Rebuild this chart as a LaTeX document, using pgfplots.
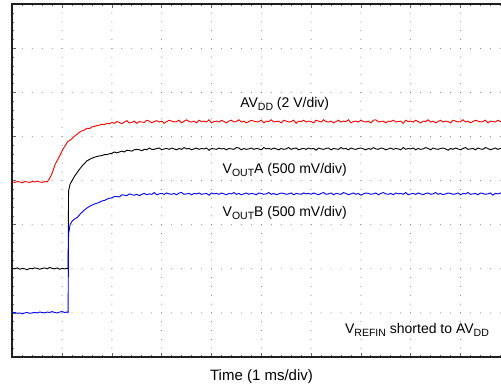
\documentclass[border=0pt]{standalone}
\usepackage{pgfplots}
\pgfplotsset{compat=1.18}
\usepackage{fontspec}
\setmainfont{Liberation Sans}
\newcommand{\sub}[1]{\raisebox{-3pt}{\fontsize{10.5pt}{10.5pt}\selectfont #1}}
\definecolor{tred}{RGB}{250,0,0}
\definecolor{tblue}{RGB}{0,0,250}
\begin{document}
\begin{tikzpicture}
\begin{axis}[
 scale only axis, width=498pt, height=352.7pt,
 xmin=0, xmax=10, ymin=0, ymax=8,
 axis line style={line width=2pt, black!88},
 xtick={0,...,10}, ytick={0,...,8}, minor x tick num=4, minor y tick num=4,
 xticklabels={}, yticklabels={},
 tick align=inside, major tick length=4pt, minor tick length=2pt,
 tick style={black!60, line width=0.8pt},
 grid=major,
 major x grid style={black!55, line width=1pt, line cap=round, dash pattern=on 0pt off 8.818pt},
 major y grid style={black!55, line width=1pt, line cap=round, dash pattern=on 0pt off 9.96pt},
]
% AVDD (red)
\addplot[tred, line width=0.9pt] coordinates {
(0.00,3.97)(0.05,3.96)(0.10,3.98)(0.15,3.97)(0.20,3.95)(0.25,3.98)(0.30,3.97)(0.35,3.96)(0.40,3.98)(0.45,3.97)
(0.50,3.99)(0.55,3.97)(0.60,3.96)(0.65,3.98)(0.70,3.97)
(0.75,4.05)(0.80,4.17)(0.86,4.37)(0.91,4.47)(0.96,4.58)(1.01,4.70)(1.06,4.79)(1.11,4.88)(1.16,4.92)(1.21,4.96)
(1.26,5.02)(1.30,5.05)(1.35,5.10)(1.40,5.13)(1.45,5.15)(1.50,5.19)(1.55,5.18)(1.60,5.22)(1.65,5.23)(1.70,5.25)
(1.75,5.26)(1.80,5.28)(1.85,5.27)(1.90,5.30)(1.95,5.29)
(2.00,5.32)(2.05,5.30)(2.10,5.34)(2.15,5.32)(2.20,5.29)(2.25,5.33)(2.30,5.36)(2.35,5.31)(2.40,5.32)(2.45,5.35)
(2.50,5.30)(2.55,5.34)(2.60,5.33)(2.65,5.32)(2.70,5.37)(2.75,5.35)(2.80,5.31)(2.85,5.34)(2.90,5.36)(2.95,5.33)
(3.00,5.35)(3.05,5.30)(3.10,5.34)(3.15,5.37)(3.20,5.35)(3.25,5.33)(3.30,5.34)(3.35,5.37)(3.40,5.31)(3.45,5.35)
(3.50,5.38)(3.55,5.34)(3.60,5.33)(3.65,5.35)(3.70,5.31)(3.75,5.37)(3.80,5.34)(3.85,5.35)(3.90,5.33)(3.95,5.38)
(4.00,5.31)(4.05,5.34)(4.10,5.35)(4.15,5.33)(4.20,5.37)(4.25,5.34)(4.30,5.31)(4.35,5.35)(4.40,5.37)(4.45,5.33)
(4.50,5.34)(4.55,5.38)(4.60,5.33)(4.65,5.35)(4.70,5.31)(4.75,5.34)(4.80,5.37)(4.85,5.35)(4.90,5.33)(4.95,5.34)
(5.00,5.37)(5.05,5.31)(5.10,5.35)(5.15,5.34)(5.20,5.38)(5.25,5.33)(5.30,5.34)(5.35,5.35)(5.40,5.31)(5.45,5.37)
(5.50,5.35)(5.55,5.33)(5.60,5.34)(5.65,5.37)(5.70,5.30)(5.75,5.35)(5.80,5.34)(5.85,5.37)(5.90,5.33)(5.95,5.35)
(6.00,5.34)(6.05,5.31)(6.10,5.37)(6.15,5.35)(6.20,5.33)(6.25,5.38)(6.30,5.34)(6.35,5.33)(6.40,5.35)(6.45,5.31)
(6.50,5.34)(6.55,5.37)(6.60,5.33)(6.65,5.35)(6.70,5.34)(6.75,5.38)(6.80,5.31)(6.85,5.34)(6.90,5.35)(6.95,5.33)
(7.00,5.37)(7.05,5.34)(7.10,5.33)(7.15,5.35)(7.20,5.31)(7.25,5.37)(7.30,5.38)(7.35,5.33)(7.40,5.34)(7.45,5.35)
(7.50,5.31)(7.55,5.35)(7.60,5.34)(7.65,5.37)(7.70,5.33)(7.75,5.34)(7.80,5.35)(7.85,5.30)(7.90,5.37)(7.95,5.34)
(8.00,5.35)(8.05,5.33)(8.10,5.37)(8.15,5.34)(8.20,5.31)(8.25,5.35)(8.30,5.34)(8.35,5.38)(8.40,5.33)(8.45,5.35)
(8.50,5.31)(8.55,5.34)(8.60,5.37)(8.65,5.33)(8.70,5.35)(8.75,5.34)(8.80,5.31)(8.85,5.37)(8.90,5.35)(8.95,5.33)
(9.00,5.34)(9.05,5.38)(9.10,5.33)(9.15,5.35)(9.20,5.31)(9.25,5.34)(9.30,5.37)(9.35,5.35)(9.40,5.33)(9.45,5.34)
(9.50,5.37)(9.55,5.31)(9.60,5.35)(9.65,5.34)(9.70,5.33)(9.75,5.37)(9.80,5.34)(9.85,5.35)
};
% VOUTA (black)
\addplot[black, line width=0.9pt] coordinates {
(0.00,2.01)(0.05,2.00)(0.10,2.02)(0.15,1.99)(0.20,2.01)(0.25,2.00)(0.30,1.98)(0.35,2.01)(0.40,2.00)(0.45,2.02)
(0.50,2.01)(0.55,1.99)(0.60,2.01)(0.65,2.02)(0.70,2.00)(0.75,2.03)(0.80,2.01)(0.85,2.00)(0.90,2.02)(0.95,1.99)
(1.00,2.01)(1.05,2.00)(1.10,2.01)(1.12,2.00)
(1.13,3.77)(1.16,3.92)(1.20,4.00)(1.25,4.10)(1.30,4.18)(1.35,4.26)(1.40,4.33)(1.45,4.39)(1.50,4.45)(1.55,4.48)
(1.60,4.51)(1.65,4.53)(1.70,4.55)(1.75,4.56)(1.80,4.57)(1.85,4.59)(1.90,4.59)(1.95,4.61)
(2.00,4.62)(2.05,4.65)(2.10,4.63)(2.15,4.65)(2.20,4.67)(2.25,4.65)(2.30,4.69)(2.35,4.68)(2.40,4.67)(2.45,4.70)
(2.50,4.71)(2.55,4.70)(2.60,4.68)(2.65,4.71)(2.70,4.70)(2.75,4.74)(2.80,4.71)(2.85,4.71)(2.90,4.73)(2.95,4.74)
(3.00,4.70)(3.05,4.72)(3.10,4.73)(3.15,4.71)(3.20,4.74)(3.25,4.72)(3.30,4.70)(3.35,4.73)(3.40,4.71)(3.45,4.75)
(3.50,4.72)(3.55,4.73)(3.60,4.70)(3.65,4.72)(3.70,4.74)(3.75,4.71)(3.80,4.73)(3.85,4.72)(3.90,4.74)(3.95,4.69)
(4.00,4.73)(4.05,4.72)(4.10,4.71)(4.15,4.74)(4.20,4.72)(4.25,4.73)(4.30,4.70)(4.35,4.73)(4.40,4.72)(4.45,4.71)
(4.50,4.75)(4.55,4.74)(4.60,4.70)(4.65,4.73)(4.70,4.71)(4.75,4.72)(4.80,4.74)(4.85,4.71)(4.90,4.73)(4.95,4.72)
(5.00,4.70)(5.05,4.75)(5.10,4.72)(5.15,4.73)(5.20,4.71)(5.25,4.74)(5.30,4.72)(5.35,4.70)(5.40,4.73)(5.45,4.71)
(5.50,4.72)(5.55,4.75)(5.60,4.71)(5.65,4.73)(5.70,4.74)(5.75,4.70)(5.80,4.72)(5.85,4.73)(5.90,4.71)(5.95,4.74)
(6.00,4.72)(6.05,4.73)(6.10,4.69)(6.15,4.74)(6.20,4.72)(6.25,4.71)(6.30,4.73)(6.35,4.74)(6.40,4.70)(6.45,4.73)
(6.50,4.72)(6.55,4.71)(6.60,4.75)(6.65,4.72)(6.70,4.73)(6.75,4.70)(6.80,4.74)(6.85,4.72)(6.90,4.71)(6.95,4.73)
(7.00,4.74)(7.05,4.72)(7.10,4.70)(7.15,4.73)(7.20,4.71)(7.25,4.75)(7.30,4.72)(7.35,4.71)(7.40,4.74)(7.45,4.73)
(7.50,4.70)(7.55,4.72)(7.60,4.74)(7.65,4.71)(7.70,4.73)(7.75,4.72)(7.80,4.70)(7.85,4.75)(7.90,4.71)(7.95,4.73)
(8.00,4.72)(8.05,4.74)(8.10,4.70)(8.15,4.73)(8.20,4.71)(8.25,4.72)(8.30,4.75)(8.35,4.73)(8.40,4.70)(8.45,4.74)
(8.50,4.72)(8.55,4.71)(8.60,4.73)(8.65,4.74)(8.70,4.72)(8.75,4.69)(8.80,4.73)(8.85,4.71)(8.90,4.74)(8.95,4.72)
(9.00,4.70)(9.05,4.73)(9.10,4.75)(9.15,4.71)(9.20,4.72)(9.25,4.73)(9.30,4.70)(9.35,4.74)(9.40,4.72)(9.45,4.71)
(9.50,4.75)(9.55,4.73)(9.60,4.70)(9.65,4.72)(9.70,4.74)(9.75,4.71)(9.80,4.73)(9.85,4.72)
};
% VOUTB (blue)
\addplot[tblue, line width=0.9pt] coordinates {
(0.00,1.00)(0.05,1.01)(0.10,0.99)(0.15,1.00)(0.20,0.98)(0.25,1.00)(0.30,1.01)(0.35,0.99)(0.40,1.00)(0.45,1.01)
(0.50,1.00)(0.55,1.02)(0.60,1.01)(0.65,1.00)(0.70,1.02)(0.75,1.01)(0.80,1.03)(0.85,1.01)(0.90,1.00)(0.95,1.02)
(1.00,1.03)(1.05,1.01)(1.10,1.02)(1.12,1.01)
(1.13,2.80)(1.14,2.86)(1.16,3.00)(1.20,3.08)(1.25,3.13)(1.31,3.17)(1.37,3.25)(1.43,3.32)(1.50,3.38)(1.57,3.43)
(1.65,3.47)(1.73,3.50)(1.80,3.54)(1.85,3.55)(1.90,3.58)(1.95,3.60)
(2.00,3.61)(2.05,3.64)(2.10,3.64)(2.15,3.63)(2.20,3.68)(2.25,3.67)(2.30,3.66)(2.35,3.70)(2.40,3.68)(2.45,3.67)
(2.50,3.69)(2.55,3.66)(2.60,3.69)(2.65,3.71)(2.70,3.68)(2.75,3.70)(2.80,3.69)(2.85,3.73)(2.90,3.68)(2.95,3.70)
(3.00,3.71)(3.05,3.69)(3.10,3.72)(3.15,3.70)(3.20,3.69)(3.25,3.71)(3.30,3.68)(3.35,3.72)(3.40,3.73)(3.45,3.69)
(3.50,3.70)(3.55,3.71)(3.60,3.68)(3.65,3.71)(3.70,3.70)(3.75,3.72)(3.80,3.69)(3.85,3.70)(3.90,3.71)(3.95,3.67)
(4.00,3.72)(4.05,3.70)(4.10,3.71)(4.15,3.69)(4.20,3.72)(4.25,3.70)(4.30,3.68)(4.35,3.71)(4.40,3.70)(4.45,3.73)
(4.50,3.69)(4.55,3.71)(4.60,3.68)(4.65,3.70)(4.70,3.72)(4.75,3.69)(4.80,3.71)(4.85,3.70)(4.90,3.68)(4.95,3.72)
(5.00,3.71)(5.05,3.69)(5.10,3.70)(5.15,3.73)(5.20,3.69)(5.25,3.71)(5.30,3.68)(5.35,3.70)(5.40,3.72)(5.45,3.71)
(5.50,3.69)(5.55,3.70)(5.60,3.72)(5.65,3.68)(5.70,3.71)(5.75,3.70)(5.80,3.69)(5.85,3.72)(5.90,3.70)(5.95,3.71)
(6.00,3.69)(6.05,3.72)(6.10,3.70)(6.15,3.68)(6.20,3.71)(6.25,3.73)(6.30,3.69)(6.35,3.70)(6.40,3.72)(6.45,3.68)
(6.50,3.71)(6.55,3.70)(6.60,3.69)(6.65,3.73)(6.70,3.71)(6.75,3.68)(6.80,3.70)(6.85,3.72)(6.90,3.69)(6.95,3.71)
(7.00,3.67)(7.05,3.70)(7.10,3.72)(7.15,3.71)(7.20,3.69)(7.25,3.70)(7.30,3.72)(7.35,3.68)(7.40,3.71)(7.45,3.73)
(7.50,3.70)(7.55,3.69)(7.60,3.71)(7.65,3.68)(7.70,3.72)(7.75,3.70)(7.80,3.71)(7.85,3.69)(7.90,3.73)(7.95,3.68)
(8.00,3.70)(8.05,3.71)(8.10,3.69)(8.15,3.72)(8.20,3.70)(8.25,3.68)(8.30,3.71)(8.35,3.72)(8.40,3.69)(8.45,3.70)
(8.50,3.73)(8.55,3.69)(8.60,3.71)(8.65,3.68)(8.70,3.70)(8.75,3.72)(8.80,3.71)(8.85,3.69)(8.90,3.70)(8.95,3.72)
(9.00,3.68)(9.05,3.71)(9.10,3.70)(9.15,3.73)(9.20,3.69)(9.25,3.70)(9.30,3.71)(9.35,3.68)(9.40,3.72)(9.45,3.71)
(9.50,3.69)(9.55,3.70)(9.60,3.72)(9.65,3.67)(9.70,3.71)(9.75,3.70)(9.80,3.72)(9.85,3.70)
};
\node[font=\fontsize{14pt}{16pt}\selectfont] at (axis cs:5.47,5.74) {AV\sub{DD} (2 V/div)};
\node[font=\fontsize{14pt}{16pt}\selectfont] at (axis cs:5.47,4.25) {V\sub{OUT}A (500 mV/div)};
\node[font=\fontsize{14pt}{16pt}\selectfont] at (axis cs:5.47,3.26) {V\sub{OUT}B (500 mV/div)};
\node[font=\fontsize{14pt}{16pt}\selectfont, anchor=east] at (axis cs:9.64,0.61) {V\sub{REFIN} shorted to AV\sub{DD}};
\end{axis}
\node[font=\fontsize{15pt}{17pt}\selectfont] at (249.2pt,-19.5pt) {Time (1 ms/div)};
\pgfresetboundingbox
\path[use as bounding box] (-12.3pt,-33pt) rectangle (488.7pt,357pt);
\end{tikzpicture}
\end{document}
